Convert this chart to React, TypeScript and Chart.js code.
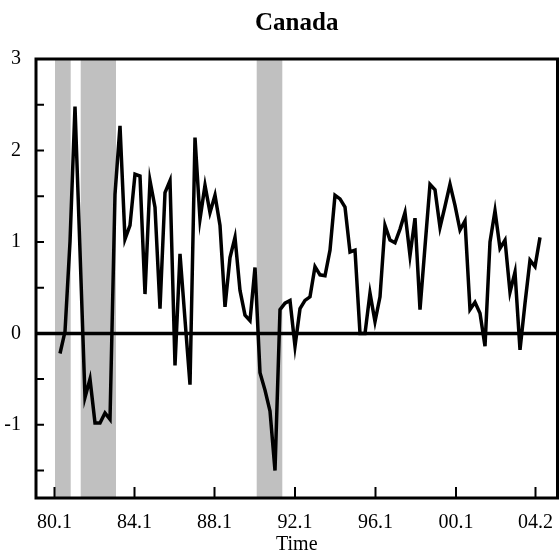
import React, { useEffect, useRef } from 'react';
import { Chart, registerables } from 'chart.js';

Chart.register(...registerables);

// Quarterly series (index 0 = first observation)
const values: number[] = [
  -0.22, 0.02, 1.0, 2.48, 0.9, -0.7, -0.5, -0.98, -0.98, -0.87,
  -0.94, 1.52, 2.27, 1.03, 1.18, 1.74, 1.72, 0.43, 1.67, 1.38,
  0.27, 1.54, 1.67, -0.35, 0.87, 0.15, -0.56, 2.14, 1.25, 1.62,
  1.32, 1.51, 1.18, 0.29, 0.83, 1.05, 0.47, 0.2, 0.14, 0.72,
  -0.43, -0.62, -0.85, -1.5, 0.26, 0.33, 0.36, -0.14, 0.27, 0.36,
  0.4, 0.73, 0.64, 0.63, 0.91, 1.51, 1.47, 1.38, 0.89, 0.91,
  0.0, 0.0, 0.44, 0.13, 0.4, 1.18, 1.02, 0.99, 1.14, 1.32,
  0.85, 1.26, 0.26, 0.95, 1.63, 1.57, 1.16, 1.39, 1.63, 1.4,
  1.13, 1.23, 0.26, 0.34, 0.22, -0.14, 1.0, 1.34, 0.93, 1.02,
  0.45, 0.67, -0.18, 0.33, 0.8, 0.73, 1.05,
];

const xTickPositions: number[] = [-1.1, 14.9, 30.9, 47.0, 63.1, 79.2, 95.1];
const xTickLabels: string[] = ['80.1', '84.1', '88.1', '92.1', '96.1', '00.1', '04.2'];

const recessionStart: number[] = [-1.0, 4.14, 39.34];
const recessionEnd: number[] = [2.14, 11.2, 44.46];

const yMin = -1.8;
const yMax = 3;
const xMin = -4.8;
const xMax = 99.5;

const FONT = "'Liberation Serif', 'Times New Roman', serif";

export default function App() {
  const ref = useRef<HTMLCanvasElement>(null);

  useEffect(() => {
    if (!ref.current) return;
    document.body.style.margin = '0';
    document.body.style.overflow = 'hidden';
    const points = values.map((v, i) => ({ x: i, y: v }));

    const decor = {
      id: 'decor',
      beforeDatasetsDraw(chart: any) {
        const { ctx, chartArea, scales } = chart;
        const { top, bottom, left, right } = chartArea;
        const xs = scales.x;
        const ys = scales.y;
        ctx.save();
        ctx.fillStyle = '#c0c0c0';
        recessionStart.forEach((s, k) => {
          const x0 = xs.getPixelForValue(s);
          const x1 = xs.getPixelForValue(recessionEnd[k]);
          ctx.fillRect(x0, top, x1 - x0, bottom - top);
        });
        const y0 = ys.getPixelForValue(0);
        ctx.strokeStyle = '#000';
        ctx.lineWidth = 3.5;
        ctx.beginPath();
        ctx.moveTo(left, y0);
        ctx.lineTo(right, y0);
        ctx.stroke();
        ctx.restore();
      },
      afterDatasetsDraw(chart: any) {
        const { ctx, chartArea, scales } = chart;
        const { top, bottom, left, right } = chartArea;
        const xs = scales.x;
        const ys = scales.y;
        ctx.save();
        ctx.strokeStyle = '#000';
        ctx.lineWidth = 2;
        ctx.beginPath();
        ys.ticks.forEach((t: any) => {
          const v = t.value;
          if (Math.abs(v * 2 - Math.round(v * 2)) > 1e-6) return;
          const py = ys.getPixelForValue(v);
          ctx.moveTo(left, py);
          ctx.lineTo(left + 8, py);
        });
        xTickPositions.forEach((v) => {
          const px = xs.getPixelForValue(v);
          ctx.moveTo(px, bottom);
          ctx.lineTo(px, bottom - 11);
        });
        ctx.stroke();
        ctx.lineWidth = 3;
        ctx.strokeRect(left, top, right - left, bottom - top);
        ctx.restore();
      },
    };

    const chart = new Chart(ref.current, {
      type: 'line',
      data: {
        datasets: [
          {
            data: points,
            borderColor: '#000',
            borderWidth: 3.5,
            pointRadius: 0,
            tension: 0,
            fill: false,
          },
        ],
      },
      options: {
        animation: false,
        responsive: false,
        devicePixelRatio: 1,
        layout: { padding: { left: 0, right: 1.5, top: 0, bottom: 0 } },
        plugins: {
          legend: { display: false },
          tooltip: { enabled: false },
          title: {
            display: true,
            text: 'Canada',
            color: '#000',
            fullSize: false,
            font: { family: FONT, size: 25, weight: 'bold' },
            padding: { top: 9, bottom: 20 },
          },
        },
        scales: {
          x: {
            type: 'linear',
            min: xMin,
            max: xMax,
            grid: { display: false, drawTicks: true, tickLength: 13 },
            border: { display: false },
            afterBuildTicks: (scale: any) => {
              scale.ticks = xTickPositions.map((v) => ({ value: v }));
            },
            afterFit: (scale: any) => {
              scale.height = 59;
            },
            ticks: {
              autoSkip: false,
              maxRotation: 0,
              color: '#000',
              padding: 0,
              font: { family: FONT, size: 20 },
              callback: (_v: any, i: number) => xTickLabels[i],
            },
            title: {
              display: true,
              text: 'Time',
              color: '#000',
              font: { family: FONT, size: 20 },
              padding: { top: 0, bottom: 0 },
            },
          },
          y: {
            type: 'linear',
            min: yMin,
            max: yMax,
            grid: { display: false, drawTicks: true, tickLength: 15 },
            border: { display: false },
            afterFit: (scale: any) => {
              scale.width = 36;
            },
            ticks: {
              stepSize: 0.5,
              autoSkip: false,
              color: '#000',
              padding: 0,
              font: { family: FONT, size: 20 },
              callback: (v: any) => {
                const n = Number(v);
                return Math.abs(n - Math.round(n)) < 1e-6 ? String(Math.round(n)) : '';
              },
            },
          },
        },
      },
      plugins: [decor],
    } as any);

    return () => chart.destroy();
  }, []);

  return (
    <div style={{ position: 'absolute', left: 0, top: 0, width: 559, height: 557 }}>
      <canvas ref={ref} width={559} height={557} style={{ display: 'block', width: 559, height: 557 }} />
    </div>
  );
}
